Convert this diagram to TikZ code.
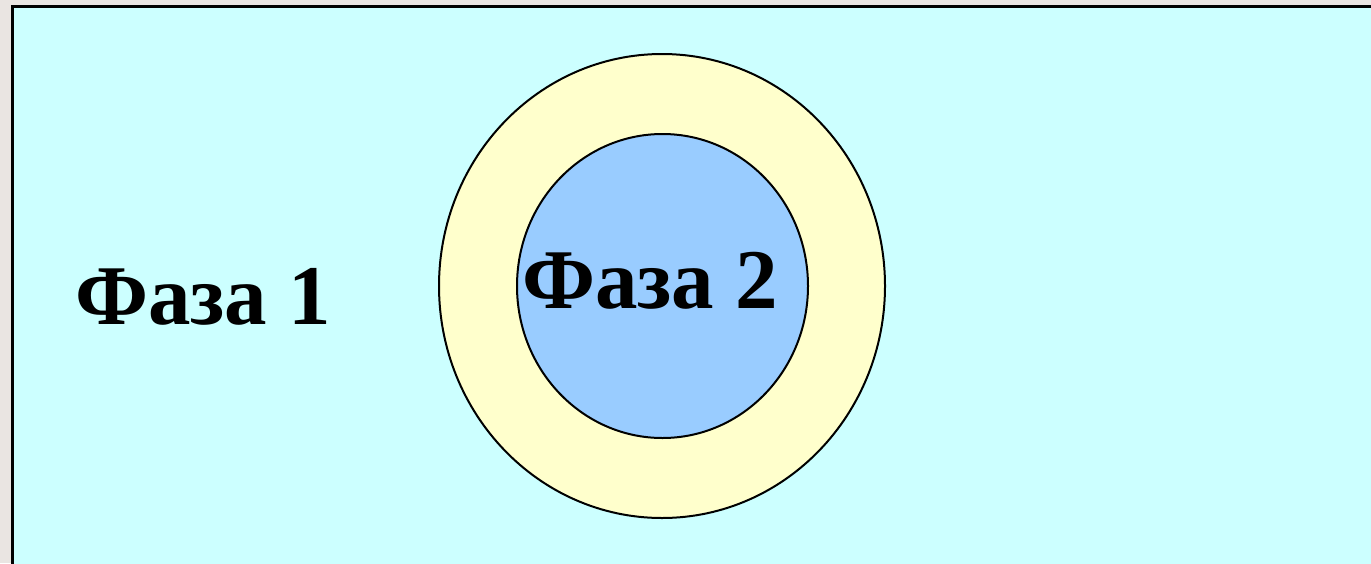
\documentclass[tikz,border=0pt]{standalone}
\usepackage{fontspec}
\setmainfont{Liberation Serif}
\usetikzlibrary{shapes.geometric}
\definecolor{outerbg}{HTML}{EAE5E2}
\definecolor{phasebg}{HTML}{CCFFFF}
\definecolor{shell}{HTML}{FFFFCC}
\definecolor{core}{HTML}{99CCFF}
\tikzset{
  ring/.style={ellipse, draw=black, line width=1pt, inner sep=0pt},
  lbl/.style={font=\bfseries\fontsize{42.5}{50}\selectfont, anchor=base, inner sep=0pt}
}
\begin{document}
\begin{tikzpicture}[x=0.5pt,y=-0.5pt]
\clip (0,0) rectangle (1371,563);
\fill[outerbg] (0,0) rectangle (1371,563);
\draw[fill=phasebg, line width=1.5pt] (12,6) rectangle (1390,590);
\node[ring, fill=shell, minimum width=223pt, minimum height=232pt] (outer) at (662,286) {};
\node[ring, fill=core, minimum width=145.5pt, minimum height=152pt] (inner) at (662.5,286) {};
\node[lbl] (p1) at (203,324) {Фаза 1};
\node[lbl] (p2) at (650,308) {Фаза 2};
\end{tikzpicture}
\end{document}
